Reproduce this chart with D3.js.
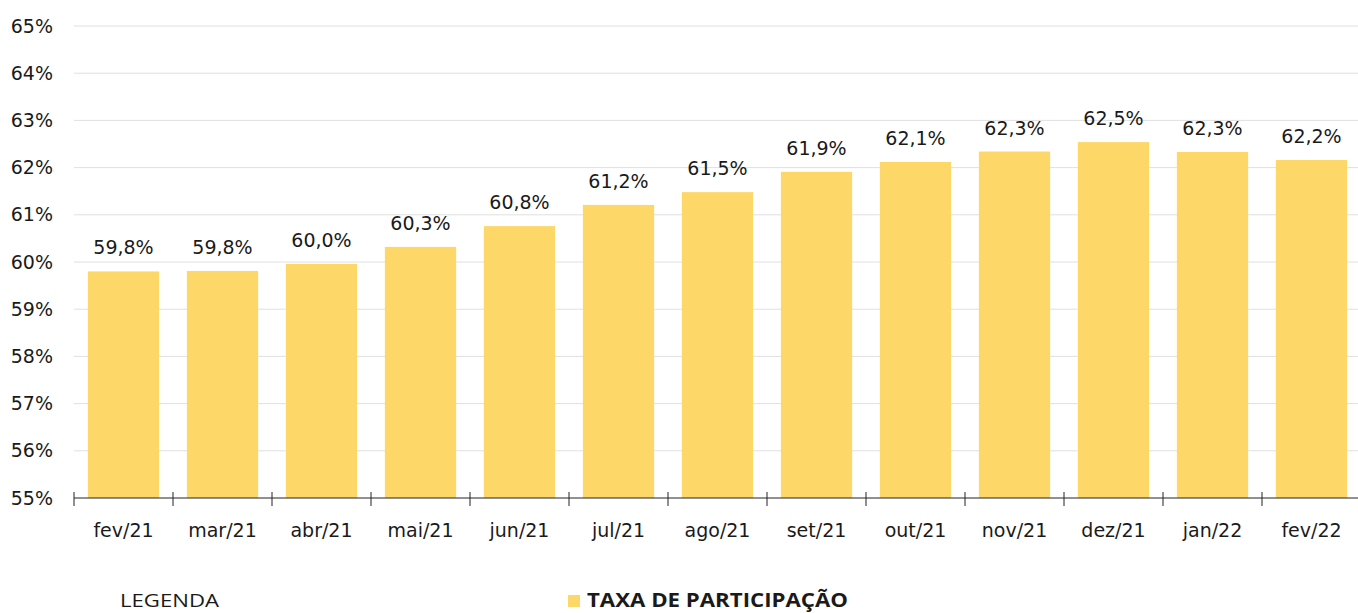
<!DOCTYPE html>
<html>
<head>
<meta charset="utf-8">
<script src="https://cdn.jsdelivr.net/npm/d3@7"></script>
<style>
  body { margin: 0; background: #fff; }
  svg text { font-family: "DejaVu Sans", "Open Sans", sans-serif; fill: #1a1a1a; }
  .axis path, .axis line { stroke: #222; }
  .grid line { stroke: #e0e0e0; }
  svg .legend text { font-family: "Liberation Sans Narrow", "Open Sans", sans-serif; }
</style>
</head>
<body>
<svg id="chart" width="1358" height="613"></svg>
<script>
// data
var months = ["fev/21", "mar/21", "abr/21", "mai/21", "jun/21", "jul/21", "ago/21",
              "set/21", "out/21", "nov/21", "dez/21", "jan/22", "fev/22"];
var taxa = [59.8, 59.81, 59.96, 60.32, 60.76, 61.21, 61.48, 61.91, 62.12, 62.34, 62.54, 62.33, 62.16];
var yTicks = [55, 56, 57, 58, 59, 60, 61, 62, 63, 64, 65];
var seriesName = "TAXA DE PARTICIPAÇÃO";

var svg = d3.select("#chart"),
    margin = {top: 26, right: -3, bottom: 115, left: 74},
    width = +svg.attr("width") - margin.left - margin.right,
    height = +svg.attr("height") - margin.top - margin.bottom;

var x = d3.scaleBand().domain(months).range([0, width]).paddingInner(0.28).paddingOuter(0.14),
    y = d3.scaleLinear().domain([55, 65]).range([height, 0]);

var fmt = function(v) { return d3.format(".1f")(v).replace(".", ",") + "%"; };

var g = svg.append("g")
    .attr("transform", "translate(" + margin.left + "," + margin.top + ")");

// gridlines
g.append("g")
    .attr("class", "grid")
  .selectAll("line")
  .data(yTicks.slice(1))
  .enter().append("line")
    .attr("x1", 0)
    .attr("x2", width)
    .attr("y1", function(d) { return y(d); })
    .attr("y2", function(d) { return y(d); });

// y labels (no axis line)
g.append("g")
  .selectAll("text")
  .data(yTicks)
  .enter().append("text")
    .attr("x", -21)
    .attr("y", function(d) { return y(d); })
    .attr("dy", "0.35em")
    .attr("text-anchor", "end")
    .style("font-size", "19px")
    .text(function(d) { return d + "%"; });

// bars
g.selectAll(".bar")
  .data(taxa)
  .enter().append("rect")
    .attr("class", "bar")
    .attr("x", function(d, i) { return x(months[i]); })
    .attr("y", function(d) { return y(d); })
    .attr("width", x.bandwidth())
    .attr("height", function(d) { return height - y(d); })
    .attr("fill", "#fdd768");

// value labels
g.selectAll(".lbl")
  .data(taxa)
  .enter().append("text")
    .attr("class", "lbl")
    .attr("x", function(d, i) { return x(months[i]) + x.bandwidth() / 2; })
    .attr("y", function(d) { return y(d) - 17; })
    .attr("text-anchor", "middle")
    .style("font-size", "19px")
    .text(fmt);

// x axis with ticks between bands
var xa = g.append("g")
    .attr("class", "axis")
    .attr("transform", "translate(0," + height + ")");

xa.append("line")
    .attr("x1", 0).attr("x2", width)
    .attr("y1", 0).attr("y2", 0);

var step = x.step();
xa.selectAll(".tk")
  .data(d3.range(months.length + 1))
  .enter().append("line")
    .attr("class", "tk")
    .attr("x1", function(i) { return x(months[0]) - x.paddingOuter() * step + i * step; })
    .attr("x2", function(i) { return x(months[0]) - x.paddingOuter() * step + i * step; })
    .attr("y1", -6)
    .attr("y2", 8);

xa.selectAll(".xl")
  .data(months)
  .enter().append("text")
    .attr("class", "xl")
    .attr("x", function(d) { return x(d) + x.bandwidth() / 2; })
    .attr("y", 32)
    .attr("dy", "0.35em")
    .attr("text-anchor", "middle")
    .style("font-size", "19px")
    .text(function(d) { return d; });

// legend
var lg = svg.append("g").attr("class", "legend");
lg.append("text")
    .attr("x", 120)
    .attr("y", 607)
    .attr("textLength", 99)
    .attr("lengthAdjust", "spacingAndGlyphs")
    .style("font-size", "19px")
    .text("LEGENDA");
lg.append("rect")
    .attr("x", 568).attr("y", 595)
    .attr("width", 12).attr("height", 12)
    .attr("fill", "#fdd768");
lg.append("text")
    .attr("x", 587)
    .attr("y", 607)
    .attr("textLength", 261)
    .attr("lengthAdjust", "spacingAndGlyphs")
    .style("font-size", "19px")
    .style("font-weight", "bold")
    .text(seriesName);
</script>
</body>
</html>
